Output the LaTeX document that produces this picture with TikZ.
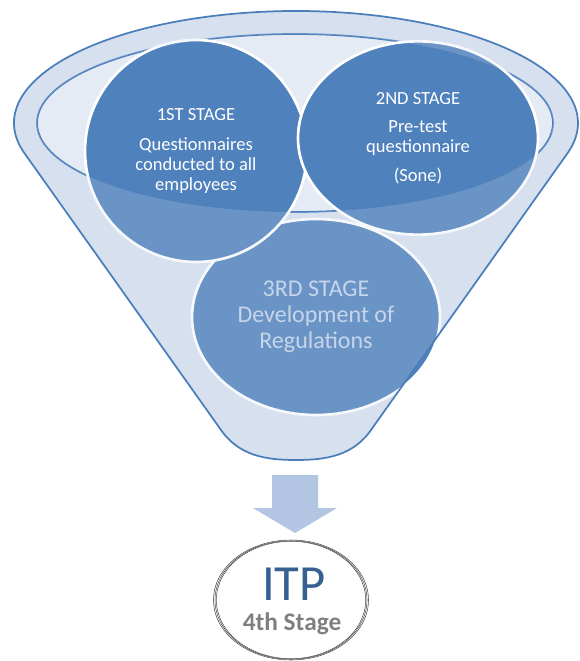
\documentclass[tikz,border=0pt]{standalone}
\usepackage{fontspec}
\setmainfont{Carlito}
\usetikzlibrary{shapes.geometric}

\definecolor{bandfill}{RGB}{214,224,238}
\definecolor{innerfill}{RGB}{229,235,244}
\definecolor{rimline}{RGB}{74,126,187}
\definecolor{stageblue}{RGB}{79,129,189}
\definecolor{thirdtext}{RGB}{196,211,233}
\definecolor{arrowfill}{RGB}{178,197,227}
\definecolor{itpblue}{RGB}{55,96,146}
\definecolor{stagegray}{RGB}{127,127,127}

% outline of the funnel (rim on top, sides, rounded bottom)
\newcommand{\funnelpath}{(23.6,152) arc[start angle=165, end angle=375, x radius=282, y radius=112]
  -- (372.4,428) .. controls (354,456) and (326,460) .. (296,460)
  .. controls (266,460) and (238,456) .. (219.6,428) -- cycle}

\begin{document}
\begin{tikzpicture}[x=0.75pt,y=-0.75pt,
    stage/.style={ellipse, fill=stageblue, draw=white, line width=2pt, inner sep=0pt, align=center, text=white},
    small/.style={font=\fontsize{13.9}{15}\selectfont},
    big/.style={font=\fontsize{18}{19.5}\selectfont, text=thirdtext},
    itpline/.style={draw=black!70, line width=0.4pt}]
  \useasboundingbox (0,0) rectangle (579,661);

  % funnel body and inner opening
  \fill[bandfill] \funnelpath;
  \filldraw[fill=innerfill, draw=rimline, line width=1.3pt] (295,123) ellipse[x radius=258, y radius=89];

  % stages
  \node[stage, big, minimum width=186pt, minimum height=147pt] (third) at (316,317)
    {3RD STAGE\\ Development of\\ Regulations};
  \node[stage, small, minimum width=166.5pt, minimum height=166.5pt] (first) at (196,151)
    {1ST STAGE\\[7pt] Questionnaires\\ conducted to all\\ employees};
  \node[stage, small, minimum width=180pt, minimum height=145pt] (second) at (418,138)
    {2ND STAGE\\[6pt] Pre-test\\ questionnaire\\[7pt] (Sone)};

  % front of the funnel over the stages
  \fill[bandfill, fill opacity=0.2, even odd rule] \funnelpath (295,123) ellipse[x radius=258, y radius=89];
  \draw[rimline, line width=1.3pt] \funnelpath;

  % arrow down to the result
  \coordinate (arrtip) at (295,533);
  \fill[arrowfill] (arrtip) -- ++(42,-25) -- ++(-19,0) -- ++(0,-33) -- ++(-46,0) -- ++(0,33) -- ++(-19,0) -- cycle;

  % result
  \node[ellipse, itpline, minimum width=112pt, minimum height=88pt] (itp) at (291,600) {};
  \foreach \d in {1.5,3}
    \draw[itpline] (itp.center) ellipse[x radius=74.5+\d, y radius=58.5+\d/2];
  \node[anchor=base, text=itpblue, font=\fontsize{38}{38}\selectfont] (itpname) at (294,600) {ITP};
  \node[anchor=base, text=stagegray, font=\bfseries\fontsize{19}{19}\selectfont] (itpstage) at (292,630) {4th Stage};
\end{tikzpicture}
\end{document}
